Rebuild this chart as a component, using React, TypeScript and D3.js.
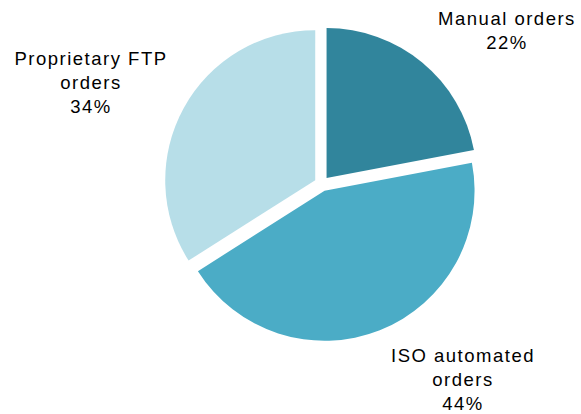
import React, { useEffect, useRef } from "react";
import * as d3 from "d3";

// chart data
const categories = ["Manual orders", "ISO automated orders", "Proprietary FTP orders"];
const shares = [22, 44, 34];
const colors = ["#31859C", "#4BACC6", "#B7DEE8"];
// label lines as they wrap in the reference
const labelLines = [
  ["Manual orders", "22%"],
  ["ISO automated", "orders", "44%"],
  ["Proprietary FTP", "orders", "34%"],
];
// label anchor (centre x, first baseline y) - placed by hand like the original
const labelPos: [number, number][] = [
  [507, 25],
  [463, 362],
  [91, 65],
];

const W = 581;
const H = 414;
const CX = 321.8;
const CY = 183.8;
const R = 150;
const EXPLODE = 7.5;
const LINE_H = 24;

export default function App() {
  const svgRef = useRef<SVGSVGElement>(null);

  useEffect(() => {
    const svg = d3.select(svgRef.current);
    svg.selectAll("*").remove();

    const pie = d3
      .pie<number>()
      .sort(null)
      .value((d) => d)
      .startAngle(0)
      .endAngle(2 * Math.PI);
    const arcs = pie(shares);
    const arc = d3.arc<d3.PieArcDatum<number>>().innerRadius(0).outerRadius(R);

    const g = svg.append("g").attr("transform", `translate(${CX},${CY})`);

    // slices pulled out from the centre along their mid angle
    g.selectAll("path")
      .data(arcs)
      .join("path")
      .attr("d", arc)
      .attr("fill", (_, i) => colors[i])
      .attr("transform", (d) => {
        const a = (d.startAngle + d.endAngle) / 2;
        return `translate(${EXPLODE * Math.sin(a)},${-EXPLODE * Math.cos(a)})`;
      });

    // labels
    const lbl = svg
      .append("g")
      .attr("font-family", "'Liberation Sans', Arial, sans-serif")
      .attr("font-size", 18.5)
      .attr("letter-spacing", 1.5)
      .attr("fill", "#000")
      .attr("text-anchor", "middle");

    categories.forEach((c, i) => {
      const [x, y] = labelPos[i];
      const t = lbl.append("text").attr("aria-label", `${c} ${shares[i]}%`);
      labelLines[i].forEach((line, j) => {
        t.append("tspan")
          .attr("x", x)
          .attr("y", y + j * LINE_H)
          .text(line);
      });
    });
  }, []);

  return (
    <svg
      ref={svgRef}
      width={W}
      height={H}
      style={{ position: "absolute", left: 0, top: 0, background: "#fff" }}
    />
  );
}
